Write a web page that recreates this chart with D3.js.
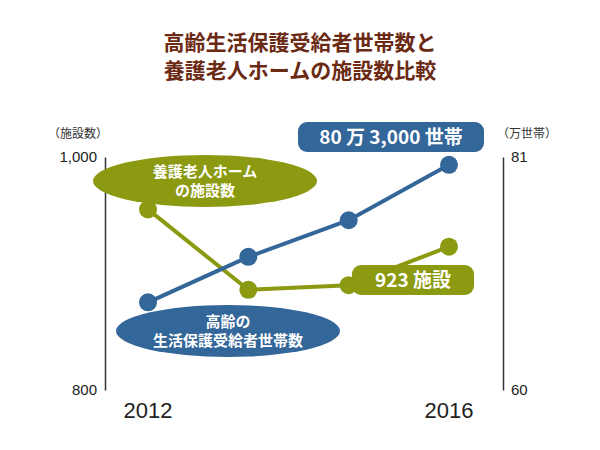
<!DOCTYPE html><html><head><meta charset="utf-8">
<script src="https://cdn.jsdelivr.net/npm/d3@7"></script>
<style>body{margin:0;background:#fff}text{font-family:"Noto Sans CJK JP","Noto Sans",sans-serif}</style></head>
<body><svg id="c" width="600" height="450"></svg>
<script>
const years=["2012","2013","2014","2016"];
const homes=[955,886,890,923];
const households=[67.9,72.0,75.3,80.3];
const leftTicks=[800,1000];
const rightTicks=[60,81];
const xLabels=["2012","2016"];
const svg=d3.select("#c");
const blue="#336699",green="#8c9a12",titleC="#6b2a14";
const yTop=157,yBot=390,L=105,R=503;
const x=d3.scalePoint().domain(years).range([148,449]);
const yl=d3.scaleLinear().domain([800,1000]).range([yBot,yTop]);
const yr=d3.scaleLinear().domain([60,81]).range([yBot,yTop]);
svg.append("text").attr("x",300).attr("y",50).attr("text-anchor","middle").attr("font-size",21).attr("font-weight","bold").attr("fill",titleC).text("高齢生活保護受給者世帯数と");
svg.append("text").attr("x",300).attr("y",78).attr("text-anchor","middle").attr("font-size",21).attr("font-weight","bold").attr("fill",titleC).text("養護老人ホームの施設数比較");
const la=svg.append("g").attr("transform",`translate(${L},0)`).call(d3.axisLeft(yl).tickValues(leftTicks).tickSize(0).tickPadding(8).tickFormat(d3.format(",")));
const ra=svg.append("g").attr("transform",`translate(${R},0)`).call(d3.axisRight(yr).tickValues(rightTicks).tickSize(0).tickPadding(8));
[la,ra].forEach(a=>{a.select(".domain").attr("stroke","#333").attr("stroke-width",1.5);a.selectAll("text").attr("font-size",15).attr("fill","#222").style("font-family","Liberation Sans,Arial");});
svg.append("text").attr("x",78).attr("y",138).attr("text-anchor","middle").attr("font-size",12).attr("fill","#333").text("（施設数）");
svg.append("text").attr("x",527).attr("y",138).attr("text-anchor","middle").attr("font-size",12).attr("fill","#333").text("（万世帯）");
svg.selectAll(".xl").data(xLabels).join("text").attr("x",d=>x(d)).attr("y",418).attr("text-anchor","middle").attr("font-size",22).attr("fill","#222").style("font-family","Liberation Sans,Arial").text(d=>d);
const lineL=d3.line().x((d,i)=>x(years[i])).y(d=>yl(d));
const lineR=d3.line().x((d,i)=>x(years[i])).y(d=>yr(d));
svg.append("path").attr("d",lineL(homes)).attr("fill","none").attr("stroke",green).attr("stroke-width",4);
svg.append("path").attr("d",lineR(households)).attr("fill","none").attr("stroke",blue).attr("stroke-width",4);
svg.selectAll(".g").data(homes).join("circle").attr("cx",(d,i)=>x(years[i])).attr("cy",d=>yl(d)).attr("r",9).attr("fill",green);
svg.selectAll(".b").data(households).join("circle").attr("cx",(d,i)=>x(years[i])).attr("cy",d=>yr(d)).attr("r",9).attr("fill",blue);
function ell(cx,cy,c,lines){svg.append("ellipse").attr("cx",cx).attr("cy",cy).attr("rx",112).attr("ry",26).attr("fill",c);
lines.forEach((t,i)=>svg.append("text").attr("x",cx).attr("y",cy+5+i*19-(lines.length-1)*9.5).attr("text-anchor","middle").attr("font-size",15).attr("font-weight","bold").attr("fill","#fff").text(t));}
ell(205,181,green,["養護老人ホーム","の施設数"]);
ell(228,331,blue,["高齢の","生活保護受給者世帯数"]);
function box(x0,y0,w,c,t){svg.append("rect").attr("x",x0).attr("y",y0).attr("width",w).attr("height",30).attr("rx",9).attr("fill",c);
svg.append("text").attr("x",x0+w/2).attr("y",y0+22).attr("text-anchor","middle").attr("font-size",19).attr("font-weight","bold").attr("fill","#fff").text(t);}
box(298,122,186,blue,"80 万 3,000 世帯");
box(352,265,122,green,"923 施設");
</script></body></html>
